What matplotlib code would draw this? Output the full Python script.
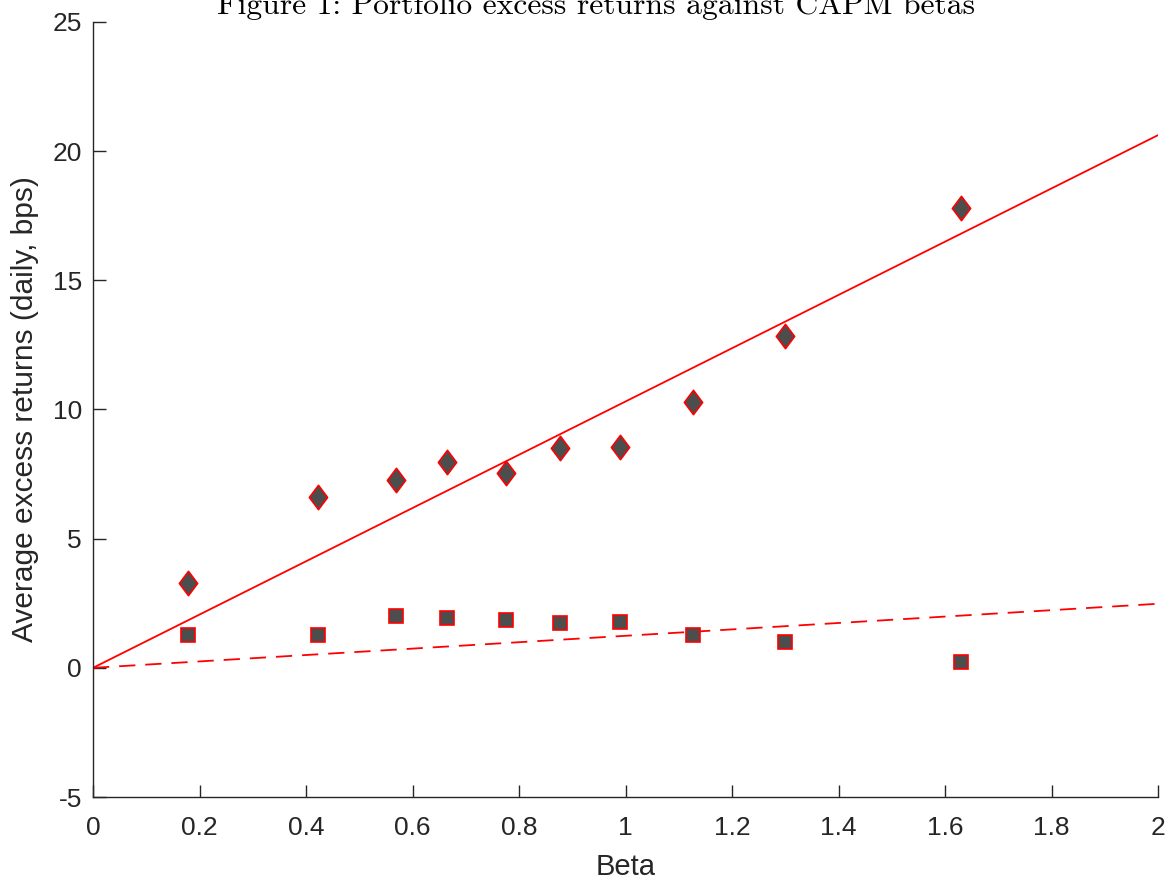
import matplotlib
matplotlib.use("Agg")
import matplotlib.pyplot as plt
from matplotlib.path import Path
import numpy as np

betas = [0.178, 0.4225, 0.569, 0.665, 0.776, 0.877, 0.990, 1.127, 1.300, 1.630]
excess_total = [3.29, 6.62, 7.28, 7.97, 7.55, 8.52, 8.56, 10.30, 12.85, 17.81]
excess_low = [1.28, 1.28, 2.01, 1.94, 1.86, 1.74, 1.78, 1.28, 1.01, 0.23]
slope_solid = 10.31
slope_dashed = 1.24
xticks = [0, 0.2, 0.4, 0.6, 0.8, 1, 1.2, 1.4, 1.6, 1.8, 2]
yticks = [-5, 0, 5, 10, 15, 20, 25]
title = "Figure 1: Portfolio excess returns against CAPM betas"

plt.rcParams['font.family'] = ['Liberation Sans', 'DejaVu Sans']
fig = plt.figure(figsize=(11.69, 8.80), dpi=100)
ax = fig.add_axes([93/1169, 83/880, (1158-93)/1169, (797-22)/880])

diamond = Path([(0, 1), (0.75, 0), (0, -1), (-0.75, 0), (0, 1)],
               [Path.MOVETO, Path.LINETO, Path.LINETO, Path.LINETO, Path.CLOSEPOLY])

xl = np.array([0, 2])
ax.plot(xl, slope_solid * xl, color='red', lw=1.3)
ax.plot(xl, slope_dashed * xl, color='red', lw=1.3, dashes=(9, 5.5))
ax.plot(betas, excess_total, linestyle='none', marker=diamond, markersize=17.5,
        markerfacecolor='#4d4d4d', markeredgecolor='red', markeredgewidth=1.2)
ax.plot(betas, excess_low, linestyle='none', marker='s', markersize=10.5,
        markerfacecolor='#4d4d4d', markeredgecolor='red', markeredgewidth=1.2)

ax.set_xlim(0, 2)
ax.set_ylim(-5, 25)
ax.set_xticks(xticks)
ax.set_xticklabels(['0', '0.2', '0.4', '0.6', '0.8', '1', '1.2', '1.4', '1.6', '1.8', '2'])
ax.set_yticks(yticks)
ax.set_yticklabels([str(v) for v in yticks])
for s in ['top', 'right']:
    ax.spines[s].set_visible(False)
for s in ['left', 'bottom']:
    ax.spines[s].set_color('#262626')
    ax.spines[s].set_linewidth(1.0)
ax.tick_params(direction='in', length=9, width=1.0, colors='#262626',
               labelsize=19, labelcolor='#262626')
ax.tick_params(axis='x', pad=14)
ax.tick_params(axis='y', pad=8)
ax.set_xlabel('Beta', fontsize=21, color='#262626', labelpad=9)
ax.set_ylabel('Average excess returns (daily, bps)', fontsize=21.5, color='#262626', labelpad=10)

fig.text(596/1169, 1 - 13.5/880, title, family='cmr10', fontsize=22.8,
         ha='center', va='baseline', color='black')

fig.savefig('out.png', dpi=100)
